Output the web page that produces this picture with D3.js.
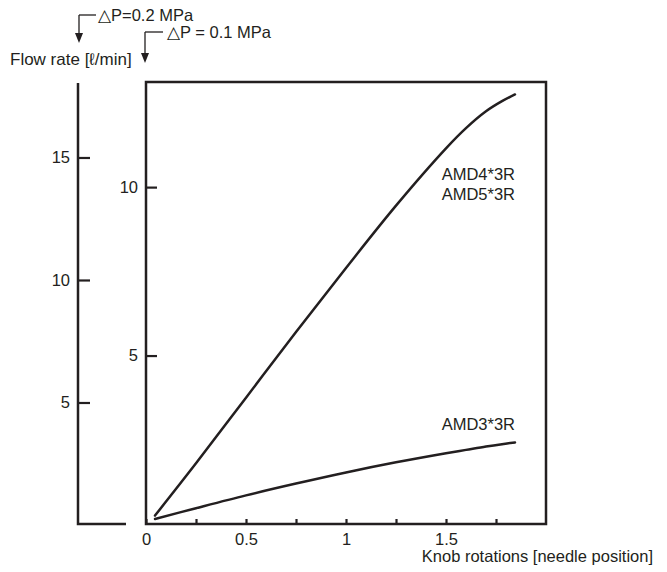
<!DOCTYPE html>
<html>
<head>
<meta charset="utf-8">
<script src="https://cdn.jsdelivr.net/npm/d3@7"></script>
<style>
  html, body { margin: 0; padding: 0; background: #fff; }
  svg { display: block; font-family: "Liberation Sans", Arial, Helvetica, sans-serif; }
</style>
</head>
<body>
<svg id="chart" width="667" height="572"></svg>
<script>
// ---- data ----
const knobRotations = [0.045, 0.25, 0.5, 0.75, 1.0, 1.25, 1.5, 1.6, 1.7, 1.78, 1.845];
const flowAMD45 = [0.25, 1.8, 3.75, 5.7, 7.6, 9.45, 11.15, 11.75, 12.25, 12.55, 12.75];
const flowAMD3 = [0.15, 0.47, 0.85, 1.2, 1.53, 1.83, 2.1, 2.2, 2.3, 2.37, 2.42];
const xTickValues = [0, 0.25, 0.5, 0.75, 1, 1.25, 1.5, 1.75];
const xTickLabels = ["0", "", "0.5", "", "1", "", "1.5", ""];
const innerTicks = [5, 10];          // ΔP = 0.1 MPa scale
const outerTicks = [5, 10, 15];      // ΔP = 0.2 MPa scale
const seriesLabels = [["AMD4*3R", "AMD5*3R"], ["AMD3*3R"]];

const ink = "#231f20";
const fs = 16.5;
const svg = d3.select("#chart");

// ---- scales ----
const x = d3.scaleLinear().domain([0, 2]).range([146, 546]);
const yIn = d3.scaleLinear().domain([0, 13.12]).range([524, 82]);
const yOut = d3.scaleLinear().domain([0, 18.04]).range([525, 83]);

// ---- inner box ----
svg.append("rect")
  .attr("x", x(0)).attr("y", yIn.range()[1])
  .attr("width", x(2) - x(0)).attr("height", yIn.range()[0] - yIn.range()[1])
  .attr("fill", "none").attr("stroke", ink).attr("stroke-width", 2.5);

// ---- outer axis line ----
svg.append("path")
  .attr("d", `M78,${yOut.range()[1]}V${yIn(0)}H126`)
  .attr("fill", "none").attr("stroke", ink).attr("stroke-width", 2.5);

function styleAxis(g) {
  g.select(".domain").remove();
  g.selectAll(".tick line").attr("stroke", ink).attr("stroke-width", 2.2);
  g.selectAll(".tick text").attr("fill", ink).attr("font-size", fs).attr("font-family", null);
}

// outer y axis
svg.append("g").attr("transform", "translate(78,0)")
  .call(d3.axisLeft(yOut).tickValues(outerTicks).tickSizeInner(-12).tickSizeOuter(0).tickPadding(8).tickFormat(d3.format("d")))
  .call(styleAxis);

// inner y axis
svg.append("g").attr("transform", `translate(${x(0)},0)`)
  .call(d3.axisLeft(yIn).tickValues(innerTicks).tickSizeInner(-11).tickSizeOuter(0).tickPadding(8).tickFormat(d3.format("d")))
  .call(styleAxis);

// x axis
svg.append("g").attr("transform", `translate(0,${yIn(0)})`)
  .call(d3.axisBottom(x).tickValues(xTickValues).tickSizeInner(-5).tickSizeOuter(0).tickPadding(9)
    .tickFormat((d, i) => xTickLabels[i]))
  .call(styleAxis);

// ---- curves ----
const line = d3.line().curve(d3.curveCatmullRom.alpha(0.5))
  .x(d => x(d[0])).y(d => yIn(d[1]));
[flowAMD45, flowAMD3].forEach(vals => {
  svg.append("path")
    .datum(knobRotations.map((k, i) => [k, vals[i]]))
    .attr("d", line)
    .attr("fill", "none").attr("stroke", ink).attr("stroke-width", 2.5)
    .attr("stroke-linecap", "round");
});

// ---- curve labels ----
const lab = svg.append("g").attr("fill", ink).attr("font-size", fs).attr("text-anchor", "end");
lab.append("text").attr("x", 515).attr("y", 180).text(seriesLabels[0][0]);
lab.append("text").attr("x", 515).attr("y", 200).text(seriesLabels[0][1]);
lab.append("text").attr("x", 515).attr("y", 430).text(seriesLabels[1][0]);

// ---- titles ----
svg.append("text").attr("x", 653).attr("y", 562).attr("text-anchor", "end")
  .attr("fill", ink).attr("font-size", fs).text("Knob rotations [needle position]");
svg.append("text").attr("x", 10).attr("y", 65)
  .attr("fill", ink).attr("font-size", 17).text("Flow rate [ℓ/min]");
svg.append("text").attr("x", 98).attr("y", 20.5)
  .attr("fill", ink).attr("font-size", fs).text("△P=0.2 MPa");
svg.append("text").attr("x", 167).attr("y", 37.5)
  .attr("fill", ink).attr("font-size", fs).text("△P = 0.1 MPa");

// ---- arrows ----
function arrow(x0, y0, xEnd, yTip) {
  svg.append("path")
    .attr("d", `M${x0},${y0}H${xEnd}`)
    .attr("fill", "none").attr("stroke", ink).attr("stroke-width", 1.3);
  svg.append("path")
    .attr("d", `M${x0},${y0}V${yTip - 8}`)
    .attr("fill", "none").attr("stroke", ink).attr("stroke-width", 1.3);
  svg.append("path")
    .attr("d", `M${x0 - 4},${yTip - 10}L${x0 + 4},${yTip - 10}L${x0},${yTip}Z`)
    .attr("fill", ink);
}
arrow(79, 15, 96, 43);
arrow(145, 32, 163, 63);
</script>
</body>
</html>
